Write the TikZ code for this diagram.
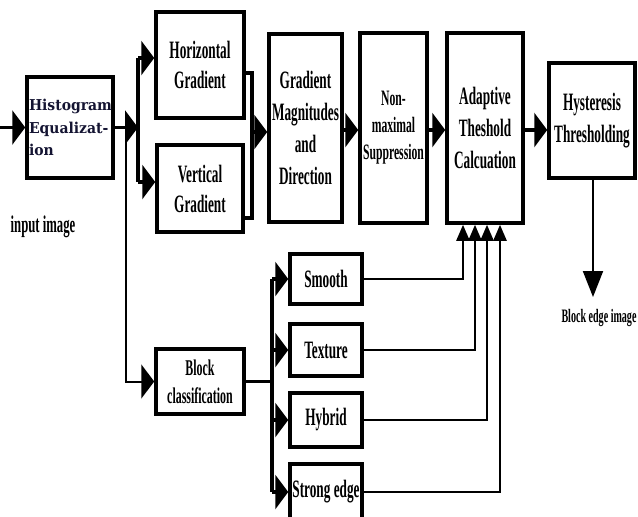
\documentclass[tikz,border=0pt]{standalone}
\usepackage{fontspec}
\setmainfont{Liberation Serif}[FakeStretch=0.53]
\newfontfamily\histfont{DejaVu Serif}[FakeStretch=0.93]
\usepackage{tikz}
\usetikzlibrary{arrows.meta}

\definecolor{histblue}{RGB}{20,20,50}

\begin{document}
\begin{tikzpicture}[x=1pt, y=-1pt,
    blk/.style={draw, line width=3.5pt, align=center, inner sep=1pt,
                font=\bfseries\fontsize{25}{32}\selectfont},
    wire/.style={line width=3.5pt},
    thinwire/.style={line width=2pt},
    bigarr/.style={line width=3.5pt, -{Triangle[length=13pt, width=34pt]}},
    smallarr/.style={line width=2.4pt, -{Triangle[length=16pt, width=13pt]}},
    downarr/.style={line width=2pt, -{Triangle[length=26pt, width=20pt]}}]
                \useasboundingbox (0,0) rectangle (638,517);

                % blocks of the upper row
                \node[blk, minimum width=86pt, minimum height=101pt, align=left, text width=82pt, inner sep=2pt,
                      font=\histfont\bfseries\fontsize{15}{22.5}\selectfont, text=histblue] (hist) at (70,127.5) {Histogram\\Equalizat-\\ion};
                \node[blk, minimum width=88pt, minimum height=106pt] (horiz) at (200,65) {Horizontal\\[-2pt]Gradient};
                \node[blk, minimum width=86pt, minimum height=87pt] (vert) at (200,188.5) {Vertical\\[-2pt]Gradient};
                \node[blk, minimum width=73pt, minimum height=188pt] (grad) at (305.5,128) {Gradient\\Magnitudes\\and\\Direction};
                \node[blk, minimum width=67pt, minimum height=190pt, font=\bfseries\fontsize{22}{27}\selectfont] (nonmax) at (393.5,128) {Non-\\maximal\\Suppression};
                \node[blk, minimum width=76pt, minimum height=190pt] (adapt) at (485,128) {Adaptive\\Theshold\\Calcuation};
                \node[blk, minimum width=86pt, minimum height=115pt] (hyst) at (592,120.5) {Hysteresis\\Thresholding};

                % blocks of the lower part
                \node[blk, minimum width=88pt, minimum height=65pt, font=\bfseries\fontsize{22.5}{28}\selectfont] (block) at (200,381.5) {Block\\classification};
                \node[blk, minimum width=72pt, minimum height=50pt] (smooth) at (326,279) {Smooth};
                \node[blk, minimum width=72pt, minimum height=52pt] (texture) at (326,350) {Texture};
                \node[blk, minimum width=72pt, minimum height=54pt] (hybrid) at (326,420) {Hybrid};
                \node[blk, minimum width=72pt, minimum height=56pt] (strong) at (326,492) {Strong edge};

                % free texts
                \node[font=\bfseries\fontsize{24}{28}\selectfont] (intxt) at (43,227) {input image};
                \node[font=\bfseries\fontsize{19}{22}\selectfont] (outtxt) at (599,318) {Block edge image};

                % split points
                \coordinate (in) at (0,127.5);
                \coordinate (s1) at (138,127.5);
                \coordinate (b1) at (126,127.5);
                \coordinate (h1) at (138,58);
                \coordinate (v1) at (138,182);
                \coordinate (g1) at (252,132);
                \coordinate (c1) at (272,381.5);
                \coordinate (c0) at (272,279);
                \coordinate (c4) at (272,492);
                \coordinate (out) at (593,297);

                \draw[bigarr] (in) -- (hist.west);
                \draw[bigarr] (hist.east) -- (s1);
                \draw[wire] (h1) -- (v1);
                \draw[bigarr] (h1) -- (h1 -| horiz.west);
                \draw[bigarr] (v1) -- (v1 -| vert.west);
                \draw[thinwire, -{Triangle[length=13pt, width=34pt]}] (b1) |- (block.west);

                \draw[wire] ([yshift=-8pt]horiz.east) -| (g1);
                \draw[wire] ([yshift=-29.5pt]vert.east) -| (g1);
                \draw[bigarr] (g1) -- (g1 -| grad.west);
                \draw[bigarr] ([yshift=-2pt]grad.east) -- ([yshift=-2pt]nonmax.west);
                \draw[bigarr] ([yshift=-2pt]nonmax.east) -- ([yshift=-2pt]adapt.west);
                \draw[bigarr] ([yshift=-2pt]adapt.east) -- ([yshift=-2pt]adapt.east -| hyst.west);
                \draw[downarr] (hyst.south -| out) -- (out);

                \draw[wire] (block.east) -- (c1);
                \draw[wire] (c0) -- (c4);
                \foreach \n in {smooth,texture,hybrid,strong}
                  \draw[bigarr] (c0 |- \n.west) -- (\n.west);

                \draw[smallarr] (smooth.east) -| ([xshift=-22pt]adapt.south);
                \draw[smallarr] (texture.east) -| ([xshift=-10pt]adapt.south);
                \draw[smallarr] (hybrid.east) -| ([xshift=2pt]adapt.south);
                \draw[smallarr] (strong.east) -| ([xshift=15pt]adapt.south);
            \end{tikzpicture}
\end{document}
